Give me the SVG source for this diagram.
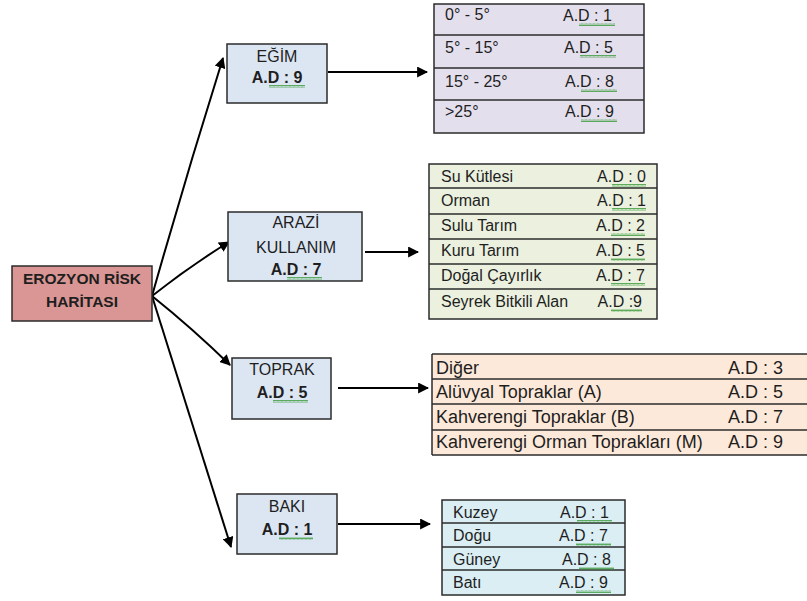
<svg xmlns="http://www.w3.org/2000/svg" width="807" height="601" viewBox="0 0 807 601">
<style>
  text { font-family: "Liberation Sans", Arial, sans-serif; fill: #1e1e1e; }
  .node { fill: #dce6f2; stroke: #2b2b2b; stroke-width: 1.5; }
  .root { fill: #d99694; stroke: #2b2b2b; stroke-width: 1.5; }
  .nt { font-size: 16px; text-anchor: middle; }
  .nb { font-size: 16px; font-weight: bold; text-anchor: middle; }
  .rt { font-size: 15.5px; font-weight: bold; text-anchor: middle; }
  .tt { font-size: 16px; }
  .tb { font-size: 18px; }
  .sep { stroke: #2b2b2b; stroke-width: 1.5; }
  .conn { fill: none; stroke: #000; stroke-width: 2; }
</style>
<defs>
  <marker id="ah" viewBox="0 0 10 10" refX="9" refY="5" markerWidth="5.5" markerHeight="5.5" orient="auto" markerUnits="strokeWidth">
    <path d="M0,0 L10,5 L0,10 z" fill="#000"/>
  </marker>
  <pattern id="sq" width="4" height="3" patternUnits="userSpaceOnUse">
    <polyline points="0,2.5 1,0.5 2,2.5 3,0.5 4,2.5" fill="none" stroke="#3a9a3a" stroke-width="0.8"/>
  </pattern>
</defs>

<g id="connectors">
  <path class="conn" d="M152,296 Q186,176 223,58" marker-end="url(#ah)"/>
  <path class="conn" d="M152,296 Q190,266 229,242" marker-end="url(#ah)"/>
  <path class="conn" d="M152,296 Q192,328 230,365" marker-end="url(#ah)"/>
  <path class="conn" d="M152,296 Q191,420 231,547" marker-end="url(#ah)"/>
  <path class="conn" d="M328,72 L427,72" marker-end="url(#ah)"/>
  <path class="conn" d="M365,252 L418,252" marker-end="url(#ah)"/>
  <path class="conn" d="M338,388 L428,388" marker-end="url(#ah)"/>
  <path class="conn" d="M338,524 L430,524" marker-end="url(#ah)"/>
</g>

<g id="root">
  <rect class="root" x="12" y="266" width="140" height="55"/>
  <text class="rt" x="82" y="284">EROZYON RİSK</text>
  <text class="rt" x="82" y="307">HARİTASI</text>
</g>

<g id="egim">
  <rect class="node" x="227" y="44" width="100" height="59"/>
  <text class="nt" x="277" y="62">EĞİM</text>
  <text class="nb" x="277" y="83">A.D : 9</text>
  <rect x="269" y="85" width="36" height="3" fill="url(#sq)"/>
</g>

<g id="arazi">
  <rect class="node" x="228" y="212" width="134" height="69"/>
  <text class="nt" x="296" y="228">ARAZİ</text>
  <text class="nt" x="296" y="253">KULLANIM</text>
  <text class="nb" x="296" y="275">A.D : 7</text>
  <rect x="287" y="277" width="35" height="3" fill="url(#sq)"/>
</g>

<g id="toprak">
  <rect class="node" x="232" y="358" width="99" height="61"/>
  <text class="nt" x="282" y="375">TOPRAK</text>
  <text class="nb" x="282" y="398">A.D : 5</text>
  <rect x="273" y="400" width="35" height="3" fill="url(#sq)"/>
</g>

<g id="baki">
  <rect class="node" x="237" y="494" width="100" height="60"/>
  <text class="nt" x="287" y="512">BAKI</text>
  <text class="nb" x="287" y="535">A.D : 1</text>
  <rect x="279" y="537" width="34" height="3" fill="url(#sq)"/>
</g>

<g id="egim-table">
  <rect x="434" y="4" width="210" height="129" fill="#e4dfec" stroke="#2b2b2b" stroke-width="1.5"/>
  <line class="sep" x1="434" y1="35" x2="644" y2="35"/>
  <line class="sep" x1="434" y1="68" x2="644" y2="68"/>
  <line class="sep" x1="434" y1="100" x2="644" y2="100"/>
  <text class="tt" x="445" y="20">0° - 5°</text><text class="tt" x="563" y="21">A.D : 1</text>
  <text class="tt" x="445" y="53">5° - 15°</text><text class="tt" x="564" y="53">A.D : 5</text>
  <text class="tt" x="445" y="87">15° - 25°</text><text class="tt" x="565" y="87">A.D : 8</text>
  <text class="tt" x="445" y="117">&gt;25°</text><text class="tt" x="565" y="117">A.D : 9</text>
  <rect x="579" y="23" width="36" height="3" fill="url(#sq)"/>
  <rect x="580" y="55" width="36" height="3" fill="url(#sq)"/>
  <rect x="581" y="89" width="36" height="3" fill="url(#sq)"/>
  <rect x="581" y="119" width="36" height="3" fill="url(#sq)"/>
</g>

<g id="arazi-table">
  <rect x="429" y="164" width="228" height="155" fill="#ebf1de" stroke="#2b2b2b" stroke-width="1.5"/>
  <line class="sep" x1="429" y1="188" x2="657" y2="188"/>
  <line class="sep" x1="429" y1="214" x2="657" y2="214"/>
  <line class="sep" x1="429" y1="239" x2="657" y2="239"/>
  <line class="sep" x1="429" y1="264" x2="657" y2="264"/>
  <line class="sep" x1="429" y1="289" x2="657" y2="289"/>
  <text class="tt" x="441" y="182">Su Kütlesi</text><text class="tt" x="646" y="182" text-anchor="end">A.D : 0</text>
  <text class="tt" x="441" y="206">Orman</text><text class="tt" x="646" y="206" text-anchor="end">A.D : 1</text>
  <text class="tt" x="441" y="231">Sulu Tarım</text><text class="tt" x="645" y="231" text-anchor="end">A.D : 2</text>
  <text class="tt" x="441" y="256">Kuru Tarım</text><text class="tt" x="645" y="256" text-anchor="end">A.D : 5</text>
  <text class="tt" x="441" y="281">Doğal Çayırlık</text><text class="tt" x="645" y="281" text-anchor="end">A.D : 7</text>
  <text class="tt" x="441" y="307">Seyrek Bitkili Alan</text><text class="tt" x="642" y="307" text-anchor="end">A.D :9</text>
  <rect x="612" y="184" width="34" height="3" fill="url(#sq)"/>
  <rect x="612" y="208" width="34" height="3" fill="url(#sq)"/>
  <rect x="611" y="233" width="34" height="3" fill="url(#sq)"/>
  <rect x="611" y="258" width="34" height="3" fill="url(#sq)"/>
  <rect x="611" y="283" width="34" height="3" fill="url(#sq)"/>
  <rect x="611" y="309" width="31" height="3" fill="url(#sq)"/>
</g>

<g id="toprak-table">
  <rect x="432" y="354" width="380" height="101" fill="#fde9d9"/>
  <line class="sep" x1="432" y1="354" x2="432" y2="455"/>
  <line class="sep" x1="432" y1="354" x2="807" y2="354"/>
  <line class="sep" x1="432" y1="379" x2="807" y2="379"/>
  <line class="sep" x1="432" y1="404" x2="807" y2="404"/>
  <line class="sep" x1="432" y1="430" x2="807" y2="430"/>
  <line class="sep" x1="432" y1="455" x2="807" y2="455"/>
  <text class="tb" x="436" y="374">Diğer</text><text class="tb" x="728" y="374">A.D : 3</text>
  <text class="tb" x="436" y="398">Alüvyal Topraklar (A)</text><text class="tb" x="728" y="398">A.D : 5</text>
  <text class="tb" x="436" y="423">Kahverengi Topraklar (B)</text><text class="tb" x="728" y="423">A.D : 7</text>
  <text class="tb" x="436" y="448">Kahverengi Orman Toprakları (M)</text><text class="tb" x="728" y="448">A.D : 9</text>
</g>

<g id="baki-table">
  <rect x="442" y="500" width="183" height="95" fill="#dbeef4" stroke="#2b2b2b" stroke-width="1.5"/>
  <line class="sep" x1="442" y1="523" x2="625" y2="523"/>
  <line class="sep" x1="442" y1="547" x2="625" y2="547"/>
  <line class="sep" x1="442" y1="570" x2="625" y2="570"/>
  <text class="tt" x="453" y="518">Kuzey</text><text class="tt" x="560" y="518">A.D : 1</text>
  <text class="tt" x="453" y="541">Doğu</text><text class="tt" x="559" y="541">A.D : 7</text>
  <text class="tt" x="453" y="565">Güney</text><text class="tt" x="562" y="565">A.D : 8</text>
  <text class="tt" x="453" y="588">Batı</text><text class="tt" x="559" y="588">A.D : 9</text>
  <rect x="577" y="520" width="35" height="3" fill="url(#sq)"/>
  <rect x="576" y="543" width="35" height="3" fill="url(#sq)"/>
  <rect x="579" y="567" width="35" height="3" fill="url(#sq)"/>
  <rect x="576" y="590" width="35" height="3" fill="url(#sq)"/>
</g>
</svg>
